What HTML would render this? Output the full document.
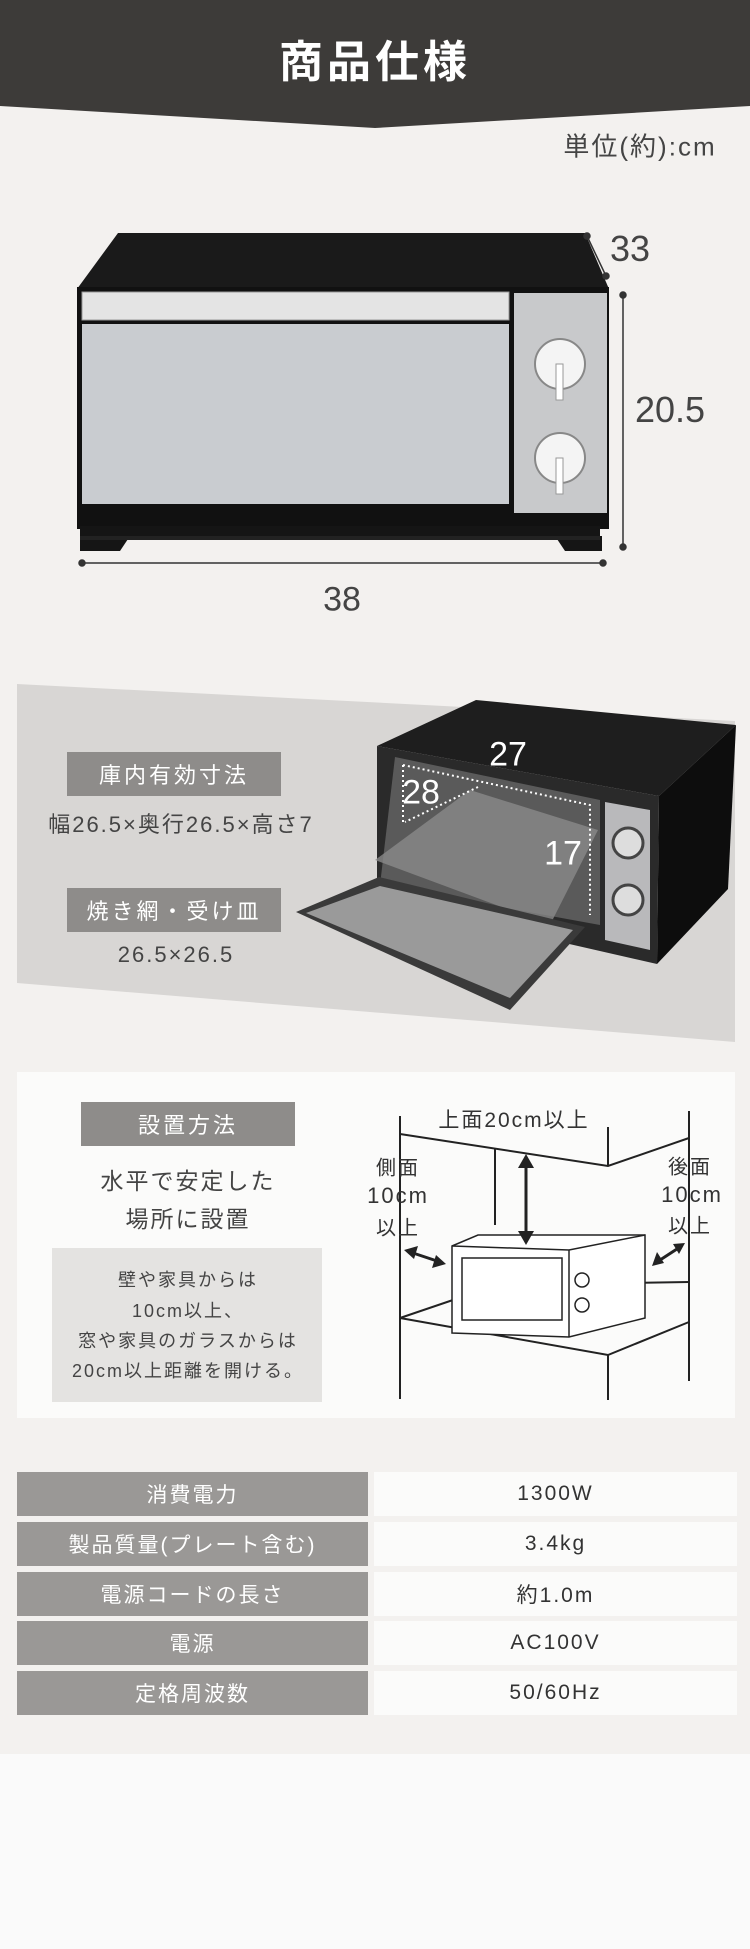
<!DOCTYPE html>
<html><head><meta charset="utf-8"><style>
*{margin:0;padding:0;box-sizing:border-box}
body{width:750px;height:1949px;background:#fafafa;position:relative;overflow:hidden;font-family:"Liberation Sans","Noto Sans CJK JP",sans-serif;color:#444}
.t{position:absolute;white-space:nowrap;transform:translate(-50%,-50%);letter-spacing:2px}
.box{position:absolute;background:#8e8c8a;color:#fff;display:flex;align-items:center;justify-content:center;font-size:22px;letter-spacing:3px}
.row{position:absolute;left:17px;width:720px;height:44px}
.row .l{position:absolute;left:0;width:351px;height:44px;background:#9a9896;color:#fff;font-size:21px;display:flex;align-items:center;justify-content:center;letter-spacing:2px}
.row .r{position:absolute;left:357px;width:363px;height:44px;background:#fbfbfa;color:#333;font-size:21px;display:flex;align-items:center;justify-content:center;letter-spacing:2px}
</style></head><body>
<div style="position:absolute;left:0;top:0;width:750px;height:1754px;background:#f3f1ef"></div>
<svg style="position:absolute;left:0;top:0" width="750" height="1949">
<polygon points="0,0 750,0 750,106 375,128 0,106" fill="#3d3b39"/>
<!-- oven 1 -->
<polygon points="118,233 585,233 609,289 77,289" fill="#1a1a1a"/>
<rect x="77" y="287" width="532" height="242" fill="#111"/>
<rect x="82" y="292" width="427" height="28" fill="#e4e4e4" stroke="#999"/>
<rect x="82" y="324" width="427" height="180" fill="#c9ccd0"/>
<rect x="514" y="293" width="93" height="220" fill="#c8c9cb"/>
<circle cx="560" cy="364" r="25" fill="#f4f4f4" stroke="#888" stroke-width="2"/>
<rect x="556" y="364" width="7" height="36" fill="#fff" stroke="#999"/>
<circle cx="560" cy="458" r="25" fill="#f4f4f4" stroke="#888" stroke-width="2"/>
<rect x="556" y="458" width="7" height="36" fill="#fff" stroke="#999"/>
<rect x="80" y="526" width="520" height="12" fill="#151515"/>
<polygon points="80,536 130,536 120,551 80,551" fill="#151515"/>
<polygon points="555,536 602,536 602,551 565,551" fill="#151515"/>
<rect x="80" y="536" width="520" height="4" fill="#222"/>
<g stroke="#333" stroke-width="1.5" fill="#333">
<line x1="587" y1="236" x2="606" y2="276"/><circle cx="587" cy="236" r="3"/><circle cx="606" cy="276" r="3"/>
<line x1="623" y1="295" x2="623" y2="547"/><circle cx="623" cy="295" r="3"/><circle cx="623" cy="547" r="3"/>
<line x1="82" y1="563" x2="603" y2="563"/><circle cx="82" cy="563" r="3"/><circle cx="603" cy="563" r="3"/>
</g>
<!-- section 2 band -->
<polygon points="17,684 735,721 735,1042 17,983" fill="#d8d6d4"/>
<polygon points="377,746 476,700 736,725 659,796" fill="#1e1e1e"/>
<polygon points="659,796 736,725 728,889 657,964" fill="#0d0d0d"/>
<polygon points="377,746 659,796 657,964 377,900" fill="#2a2a2a"/>
<polygon points="395,757 600,800 600,925 380,885" fill="#5a5a5a"/>
<polygon points="605,802 650,810 650,950 605,940" fill="#b9b9bb"/>
<circle cx="628" cy="843" r="15" fill="#ddd" stroke="#444" stroke-width="3"/>
<circle cx="628" cy="900" r="15" fill="#ddd" stroke="#444" stroke-width="3"/>
<polygon points="375,860 470,790 598,830 550,925" fill="#8a8a8a" opacity=".8"/>
<polygon points="296,912 379,877 585,927 510,1010" fill="#3a3a3a"/>
<polygon points="306,913 380,886 573,930 510,998" fill="#9a9a9a"/>
<g stroke="#fff" stroke-width="2" stroke-dasharray="2 3" fill="none">
<polyline points="403,765 590,805 590,915"/><line x1="403" y1="765" x2="403" y2="825"/><line x1="478" y1="787" x2="405" y2="822"/>
</g>
<!-- section 3 -->
<rect x="17" y="1072" width="718" height="346" fill="#fbfbfa"/>
<rect x="52" y="1248" width="270" height="154" fill="#e4e3e1"/>
<g stroke="#222" stroke-width="2" fill="none">
<line x1="400" y1="1116" x2="400" y2="1399"/>
<line x1="689" y1="1111" x2="689" y2="1381"/>
<polyline points="400,1134 608,1166 689,1138"/>
<line x1="608" y1="1127" x2="608" y2="1166"/>
<line x1="495" y1="1148" x2="495" y2="1225"/>
<polyline points="400,1318 497,1285 689,1282"/>
<polyline points="400,1318 608,1355 689,1322"/>
<line x1="608" y1="1355" x2="608" y2="1400"/>
<polygon points="452,1246 478,1235 645,1235 645,1318 569,1337 452,1333" fill="#fff" stroke-width="1.5"/>
<polyline points="452,1246 569,1250 645,1235" stroke-width="1.5"/>
<line x1="569" y1="1250" x2="569" y2="1337" stroke-width="1.5"/>
<rect x="462" y="1258" width="100" height="62" stroke-width="1.5"/>
<circle cx="582" cy="1280" r="7" stroke-width="1.5"/><circle cx="582" cy="1305" r="7" stroke-width="1.5"/>
<line x1="526" y1="1162" x2="526" y2="1237" stroke-width="3"/>
<line x1="410" y1="1252" x2="440" y2="1262" stroke-width="3"/>
<line x1="657" y1="1262" x2="680" y2="1247" stroke-width="3"/>
</g>
<g fill="#222">
<polygon points="526,1154 518,1168 534,1168"/><polygon points="526,1245 518,1231 534,1231"/>
<polygon points="404,1250 418,1246 414,1259"/><polygon points="446,1264 432,1268 436,1255"/>
<polygon points="652,1266 657,1252 664,1263"/><polygon points="685,1243 673,1244 679,1254"/>
</g>
</svg>
<div class="t" style="left:375px;top:58px;color:#fff;font-size:44px;font-weight:bold;letter-spacing:4px">商品仕様</div>
<div class="t" style="left:640px;top:145px;font-size:26px;color:#444">単位(約):cm</div>
<div class="t" style="left:630px;top:249px;font-size:36px;color:#444;letter-spacing:0">33</div>
<div class="t" style="left:670px;top:410px;font-size:36px;color:#444;letter-spacing:0">20.5</div>
<div class="t" style="left:342px;top:600px;font-size:34px;color:#444;letter-spacing:0">38</div>
<div class="box" style="left:67px;top:752px;width:214px;height:44px">庫内有効寸法</div>
<div class="t" style="left:181px;top:823px;font-size:22px">幅26.5×奥行26.5×高さ7</div>
<div class="box" style="left:67px;top:888px;width:214px;height:44px">焼き網・受け皿</div>
<div class="t" style="left:176px;top:955px;font-size:22px">26.5×26.5</div>
<div class="t" style="left:508px;top:755px;font-size:34px;color:#fff;letter-spacing:0">27</div>
<div class="t" style="left:421px;top:793px;font-size:34px;color:#fff;letter-spacing:0">28</div>
<div class="t" style="left:563px;top:854px;font-size:34px;color:#fff;letter-spacing:0">17</div>
<div class="box" style="left:81px;top:1102px;width:214px;height:44px">設置方法</div>
<div class="t" style="left:188px;top:1179px;font-size:23px">水平で安定した</div>
<div class="t" style="left:188px;top:1217px;font-size:23px">場所に設置</div>
<div class="t" style="left:188px;top:1279px;font-size:18px">壁や家具からは</div>
<div class="t" style="left:188px;top:1310px;font-size:18px">10cm以上、</div>
<div class="t" style="left:188px;top:1340px;font-size:18px">窓や家具のガラスからは</div>
<div class="t" style="left:188px;top:1370px;font-size:18px">20cm以上距離を開ける。</div>
<div class="t" style="left:514px;top:1119px;font-size:21px;color:#333">上面20cm以上</div>
<div class="t" style="left:398px;top:1166px;font-size:20px;color:#333">側面</div>
<div class="t" style="left:398px;top:1196px;font-size:22px;color:#333">10cm</div>
<div class="t" style="left:398px;top:1226px;font-size:20px;color:#333">以上</div>
<div class="t" style="left:690px;top:1165px;font-size:20px;color:#333">後面</div>
<div class="t" style="left:692px;top:1195px;font-size:22px;color:#333">10cm</div>
<div class="t" style="left:690px;top:1224px;font-size:20px;color:#333">以上</div>
<div class="row" style="top:1472px"><div class="l">消費電力</div><div class="r">1300W</div></div>
<div class="row" style="top:1522px"><div class="l">製品質量(プレート含む)</div><div class="r">3.4kg</div></div>
<div class="row" style="top:1572px"><div class="l">電源コードの長さ</div><div class="r">約1.0m</div></div>
<div class="row" style="top:1621px"><div class="l">電源</div><div class="r">AC100V</div></div>
<div class="row" style="top:1671px"><div class="l">定格周波数</div><div class="r">50/60Hz</div></div>
</body></html>
